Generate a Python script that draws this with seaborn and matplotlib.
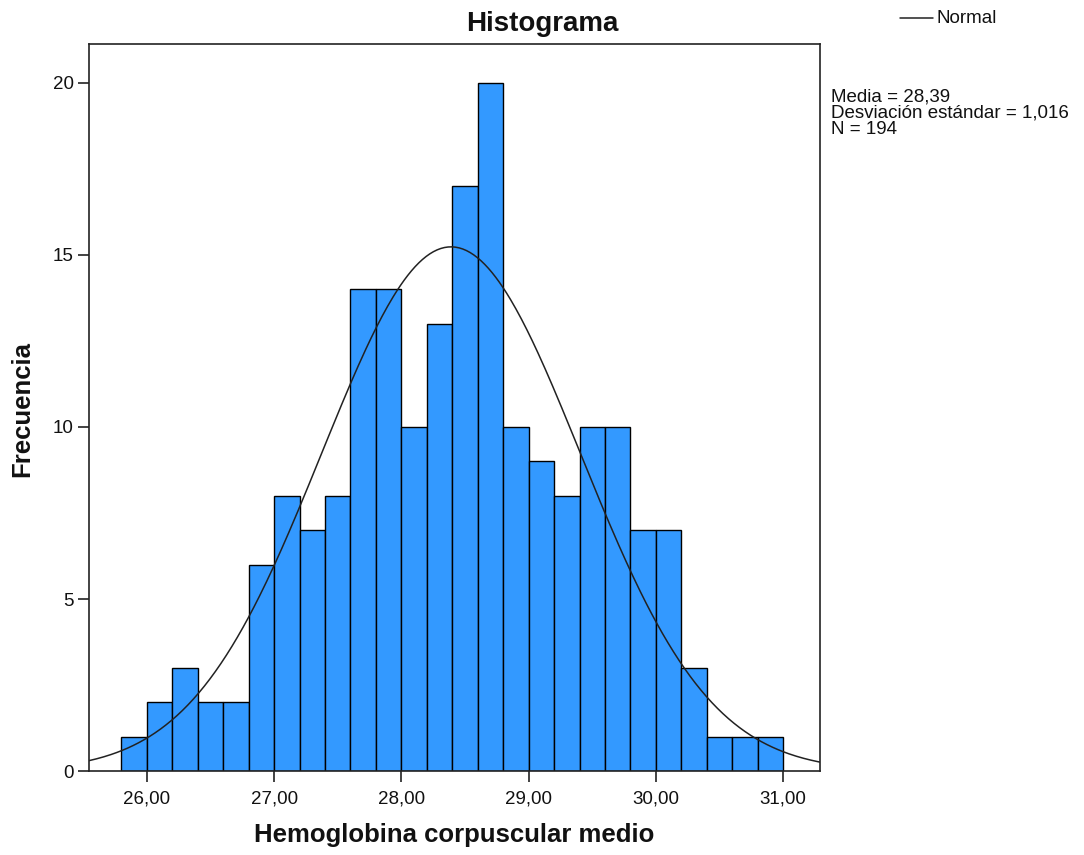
import numpy as np
import pandas as pd
import matplotlib
matplotlib.use("Agg")
import matplotlib.pyplot as plt
import seaborn as sns

# Bin layout (width 0.2) and observed frequencies
bin_start = 25.8
bin_stop = 31.0
bin_width = 0.2
counts = [1, 2, 3, 2, 2, 6, 8, 7, 8, 14, 14, 10, 13, 17, 20,
          10, 9, 8, 10, 10, 7, 7, 3, 1, 1, 1]
mean_val = 28.39
std_val = 1.016
n_obs = 194
x_ticks = [26, 27, 28, 29, 30, 31]
y_ticks = [0, 5, 10, 15, 20]

sns.set_theme(style="white")
plt.rcParams["font.family"] = ["Liberation Sans", "DejaVu Sans"]
plt.rcParams["text.color"] = "#111111"

centers = bin_start + bin_width * (np.arange(len(counts)) + 0.5)
df = pd.DataFrame({"hcm": centers, "freq": np.array(counts, dtype=float)})

fig = plt.figure(figsize=(10.84, 8.55), dpi=100)
ax = fig.add_axes([0.0821, 0.0982, 0.6744, 0.8503])

sns.histplot(data=df, x="hcm", weights="freq", binwidth=bin_width,
             binrange=(bin_start, bin_stop), ax=ax,
             color="#3399ff", alpha=1.0, edgecolor="black", linewidth=1.0)

# Fitted normal curve scaled to counts
xlim = (25.545, 31.29)
xs = np.linspace(xlim[0], xlim[1], 400)
ys = n_obs * bin_width * np.exp(-0.5 * ((xs - mean_val) / std_val) ** 2) / (std_val * np.sqrt(2 * np.pi))
sns.lineplot(x=xs, y=ys, ax=ax, color="#222222", linewidth=1.1)

ax.set_xlim(*xlim)
ax.set_ylim(0, 21.13)
ax.set_xticks(x_ticks)
ax.set_xticklabels([f"{t:.2f}".replace(".", ",") for t in x_ticks])
ax.set_yticks(y_ticks)
ax.set_yticklabels([str(t) for t in y_ticks])
ax.tick_params(axis="both", direction="out", length=8, width=1.2,
               labelsize=13.5, colors="#222222", labelcolor="#111111")
ax.tick_params(axis="x", bottom=True, pad=6)
ax.tick_params(axis="y", left=True, pad=3)
for s in ax.spines.values():
    s.set_color("#222222")
    s.set_linewidth(1.2)

ax.set_xlabel("Hemoglobina corpuscular medio", fontsize=18.5, fontweight="bold", color="#111111")
ax.set_ylabel("Frecuencia", fontsize=18.5, fontweight="bold", color="#111111")
ax.xaxis.label.set_va("center")
ax.yaxis.label.set_va("center")
ax.xaxis.set_label_coords(0.5, -0.088)
ax.yaxis.set_label_coords(-0.0917, 0.498)
fig.text(0.5, 0.972, "Histograma", ha="center", va="center",
         fontsize=20, fontweight="bold")

# Legend entry and summary statistics
fig.add_artist(plt.Line2D([0.830, 0.861], [0.979, 0.979], color="#222222", linewidth=1.1))
fig.text(0.864, 0.978, "Normal", ha="left", va="center", fontsize=13.5)
fig.text(0.767, 0.897,
         f"Media = {mean_val:.2f}\nDesviación estándar = {std_val:.3f}\nN = {n_obs}".replace(".", ","),
         ha="left", va="top", fontsize=13.5, linespacing=0.95)

fig.savefig("out.png", dpi=100)
